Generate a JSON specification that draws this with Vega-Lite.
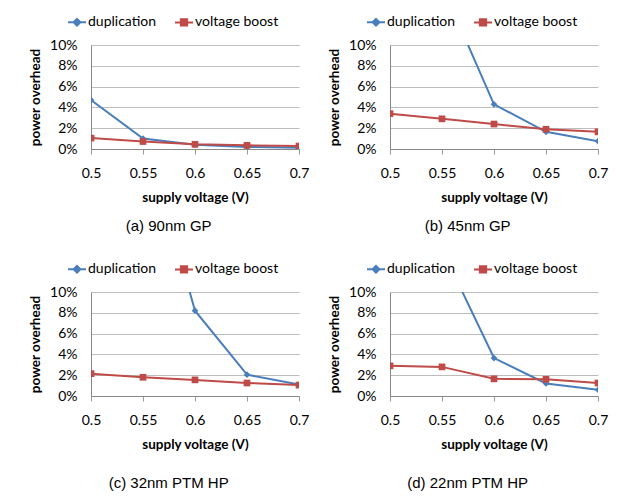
{
  "$schema": "https://vega.github.io/schema/vega-lite/v6.json",
  "background": "white",
  "padding": {"left": 28, "top": 12, "right": 5, "bottom": 5},
  "data": {"values": [
    {"panel": "a", "series": "duplication", "v": 0.5, "p": 4.7},
    {"panel": "a", "series": "duplication", "v": 0.55, "p": 1.0},
    {"panel": "a", "series": "duplication", "v": 0.6, "p": 0.4},
    {"panel": "a", "series": "duplication", "v": 0.65, "p": 0.2},
    {"panel": "a", "series": "duplication", "v": 0.7, "p": 0.12},
    {"panel": "a", "series": "voltage boost", "v": 0.5, "p": 1.05},
    {"panel": "a", "series": "voltage boost", "v": 0.55, "p": 0.72},
    {"panel": "a", "series": "voltage boost", "v": 0.6, "p": 0.45},
    {"panel": "a", "series": "voltage boost", "v": 0.65, "p": 0.35},
    {"panel": "a", "series": "voltage boost", "v": 0.7, "p": 0.28},
    {"panel": "b", "series": "duplication", "v": 0.5, "p": 30},
    {"panel": "b", "series": "duplication", "v": 0.55, "p": 15.7},
    {"panel": "b", "series": "duplication", "v": 0.6, "p": 4.3},
    {"panel": "b", "series": "duplication", "v": 0.65, "p": 1.65},
    {"panel": "b", "series": "duplication", "v": 0.7, "p": 0.75},
    {"panel": "b", "series": "voltage boost", "v": 0.5, "p": 3.4},
    {"panel": "b", "series": "voltage boost", "v": 0.55, "p": 2.9},
    {"panel": "b", "series": "voltage boost", "v": 0.6, "p": 2.4},
    {"panel": "b", "series": "voltage boost", "v": 0.65, "p": 1.9},
    {"panel": "b", "series": "voltage boost", "v": 0.7, "p": 1.65},
    {"panel": "c", "series": "duplication", "v": 0.5, "p": 50},
    {"panel": "c", "series": "duplication", "v": 0.55, "p": 26},
    {"panel": "c", "series": "duplication", "v": 0.6, "p": 8.2},
    {"panel": "c", "series": "duplication", "v": 0.65, "p": 2.05},
    {"panel": "c", "series": "duplication", "v": 0.7, "p": 1.1},
    {"panel": "c", "series": "voltage boost", "v": 0.5, "p": 2.15},
    {"panel": "c", "series": "voltage boost", "v": 0.55, "p": 1.8},
    {"panel": "c", "series": "voltage boost", "v": 0.6, "p": 1.55},
    {"panel": "c", "series": "voltage boost", "v": 0.65, "p": 1.25},
    {"panel": "c", "series": "voltage boost", "v": 0.7, "p": 1.05},
    {"panel": "d", "series": "duplication", "v": 0.5, "p": 30},
    {"panel": "d", "series": "duplication", "v": 0.55, "p": 14.1},
    {"panel": "d", "series": "duplication", "v": 0.6, "p": 3.65},
    {"panel": "d", "series": "duplication", "v": 0.65, "p": 1.2},
    {"panel": "d", "series": "duplication", "v": 0.7, "p": 0.6},
    {"panel": "d", "series": "voltage boost", "v": 0.5, "p": 2.9},
    {"panel": "d", "series": "voltage boost", "v": 0.55, "p": 2.8},
    {"panel": "d", "series": "voltage boost", "v": 0.6, "p": 1.65},
    {"panel": "d", "series": "voltage boost", "v": 0.65, "p": 1.6},
    {"panel": "d", "series": "voltage boost", "v": 0.7, "p": 1.25}
  ]},
  "vconcat": [
    {"hconcat": [
      {
        "width": 208, "height": 104,
        "title": {"text": "(a) 90nm GP", "orient": "bottom", "offset": 15},
        "transform": [{"filter": "datum.panel === 'a'"}],
        "encoding": {
          "x": {"field": "v", "type": "quantitative", "scale": {"domain": [0.5, 0.7], "nice": false, "zero": false}, "axis": {"title": "supply voltage (V)", "values": [0.5, 0.55, 0.6, 0.65, 0.7], "format": "~g"}},
          "y": {"field": "p", "type": "quantitative", "scale": {"domain": [0, 10], "nice": false}, "axis": {"title": "power overhead", "values": [0, 2, 4, 6, 8, 10], "labelExpr": "datum.value + '%'"}},
          "color": {"field": "series", "type": "nominal", "scale": {"domain": ["duplication", "voltage boost"], "range": ["#4A7EBB", "#BE4B48"]},
            "legend": {"encode": {"symbols": {"update": {"shape": {"signal": "datum.value === 'duplication' ? 'M-1,0H1M0,-0.38L0.38,0L0,0.38L-0.38,0Z' : 'M-1,0H1M-0.35,-0.35H0.35V0.35H-0.35Z'"}, "fill": {"signal": "datum.value === 'duplication' ? '#4A7EBB' : '#BE4B48'"}, "stroke": {"signal": "datum.value === 'duplication' ? '#4A7EBB' : '#BE4B48'"}}}}}}
        },
        "layer": [
          {"mark": {"type": "line", "clip": true, "strokeWidth": 2}},
          {"mark": {"type": "point", "filled": true, "clip": true, "opacity": 1, "size": 45}, "encoding": {"shape": {"condition": {"test": "datum.series === 'duplication'", "value": "diamond"}, "value": "square"}}}
        ]
      },
      {
        "width": 208, "height": 104,
        "title": {"text": "(b) 45nm GP", "orient": "bottom", "offset": 15},
        "transform": [{"filter": "datum.panel === 'b'"}],
        "encoding": {
          "x": {"field": "v", "type": "quantitative", "scale": {"domain": [0.5, 0.7], "nice": false, "zero": false}, "axis": {"title": "supply voltage (V)", "values": [0.5, 0.55, 0.6, 0.65, 0.7], "format": "~g"}},
          "y": {"field": "p", "type": "quantitative", "scale": {"domain": [0, 10], "nice": false}, "axis": {"title": "power overhead", "values": [0, 2, 4, 6, 8, 10], "labelExpr": "datum.value + '%'"}},
          "color": {"field": "series", "type": "nominal", "scale": {"domain": ["duplication", "voltage boost"], "range": ["#4A7EBB", "#BE4B48"]},
            "legend": {"encode": {"symbols": {"update": {"shape": {"signal": "datum.value === 'duplication' ? 'M-1,0H1M0,-0.38L0.38,0L0,0.38L-0.38,0Z' : 'M-1,0H1M-0.35,-0.35H0.35V0.35H-0.35Z'"}, "fill": {"signal": "datum.value === 'duplication' ? '#4A7EBB' : '#BE4B48'"}, "stroke": {"signal": "datum.value === 'duplication' ? '#4A7EBB' : '#BE4B48'"}}}}}}
        },
        "layer": [
          {"mark": {"type": "line", "clip": true, "strokeWidth": 2}},
          {"mark": {"type": "point", "filled": true, "clip": true, "opacity": 1, "size": 45}, "encoding": {"shape": {"condition": {"test": "datum.series === 'duplication'", "value": "diamond"}, "value": "square"}}}
        ]
      }
    ], "spacing": 18, "resolve": {"legend": {"color": "independent"}, "scale": {"color": "independent", "x": "independent", "y": "independent"}}},
    {"hconcat": [
      {
        "width": 208, "height": 104,
        "title": {"text": "(c) 32nm PTM HP", "orient": "bottom", "offset": 25},
        "transform": [{"filter": "datum.panel === 'c'"}],
        "encoding": {
          "x": {"field": "v", "type": "quantitative", "scale": {"domain": [0.5, 0.7], "nice": false, "zero": false}, "axis": {"title": "supply voltage (V)", "values": [0.5, 0.55, 0.6, 0.65, 0.7], "format": "~g"}},
          "y": {"field": "p", "type": "quantitative", "scale": {"domain": [0, 10], "nice": false}, "axis": {"title": "power overhead", "values": [0, 2, 4, 6, 8, 10], "labelExpr": "datum.value + '%'"}},
          "color": {"field": "series", "type": "nominal", "scale": {"domain": ["duplication", "voltage boost"], "range": ["#4A7EBB", "#BE4B48"]},
            "legend": {"encode": {"symbols": {"update": {"shape": {"signal": "datum.value === 'duplication' ? 'M-1,0H1M0,-0.38L0.38,0L0,0.38L-0.38,0Z' : 'M-1,0H1M-0.35,-0.35H0.35V0.35H-0.35Z'"}, "fill": {"signal": "datum.value === 'duplication' ? '#4A7EBB' : '#BE4B48'"}, "stroke": {"signal": "datum.value === 'duplication' ? '#4A7EBB' : '#BE4B48'"}}}}}}
        },
        "layer": [
          {"mark": {"type": "line", "clip": true, "strokeWidth": 2}},
          {"mark": {"type": "point", "filled": true, "clip": true, "opacity": 1, "size": 45}, "encoding": {"shape": {"condition": {"test": "datum.series === 'duplication'", "value": "diamond"}, "value": "square"}}}
        ]
      },
      {
        "width": 208, "height": 104,
        "title": {"text": "(d) 22nm PTM HP", "orient": "bottom", "offset": 25},
        "transform": [{"filter": "datum.panel === 'd'"}],
        "encoding": {
          "x": {"field": "v", "type": "quantitative", "scale": {"domain": [0.5, 0.7], "nice": false, "zero": false}, "axis": {"title": "supply voltage (V)", "values": [0.5, 0.55, 0.6, 0.65, 0.7], "format": "~g"}},
          "y": {"field": "p", "type": "quantitative", "scale": {"domain": [0, 10], "nice": false}, "axis": {"title": "power overhead", "values": [0, 2, 4, 6, 8, 10], "labelExpr": "datum.value + '%'"}},
          "color": {"field": "series", "type": "nominal", "scale": {"domain": ["duplication", "voltage boost"], "range": ["#4A7EBB", "#BE4B48"]},
            "legend": {"encode": {"symbols": {"update": {"shape": {"signal": "datum.value === 'duplication' ? 'M-1,0H1M0,-0.38L0.38,0L0,0.38L-0.38,0Z' : 'M-1,0H1M-0.35,-0.35H0.35V0.35H-0.35Z'"}, "fill": {"signal": "datum.value === 'duplication' ? '#4A7EBB' : '#BE4B48'"}, "stroke": {"signal": "datum.value === 'duplication' ? '#4A7EBB' : '#BE4B48'"}}}}}}
        },
        "layer": [
          {"mark": {"type": "line", "clip": true, "strokeWidth": 2}},
          {"mark": {"type": "point", "filled": true, "clip": true, "opacity": 1, "size": 45}, "encoding": {"shape": {"condition": {"test": "datum.series === 'duplication'", "value": "diamond"}, "value": "square"}}}
        ]
      }
    ], "spacing": 18, "resolve": {"legend": {"color": "independent"}, "scale": {"color": "independent", "x": "independent", "y": "independent"}}}
  ],
  "spacing": 25,
  "resolve": {"legend": {"color": "independent"}, "scale": {"color": "independent", "x": "independent", "y": "independent"}},
  "config": {
    "view": {"stroke": null},
    "title": {"font": "Liberation Sans", "fontSize": 15, "fontWeight": "normal", "color": "#000", "anchor": "middle", "frame": "bounds"},
    "axisX": {"grid": false, "ticks": true, "tickSize": 5, "tickColor": "#999", "domainColor": "#888", "labelPadding": 12, "labelFlush": false, "titlePadding": 10},
    "axisY": {"grid": true, "gridColor": "#bdbdbd", "ticks": false, "tickSize": 0, "domainColor": "#888", "labelPadding": 14, "titlePadding": 7},
    "axis": {"labelFont": "Lato", "labelFontSize": 14, "labelColor": "#000", "titleFont": "Lato", "titleFontSize": 13.5, "titleFontWeight": "bold", "titleColor": "#000"},
    "legend": {"orient": "none", "legendX": -24, "legendY": -33, "direction": "horizontal", "title": null, "labelFont": "Lato", "labelFontSize": 14, "labelColor": "#000", "symbolSize": 324, "symbolStrokeWidth": 2, "labelOffset": 1, "columnPadding": 14,
      "symbolType": "M-1,0H1"}
  }
}
